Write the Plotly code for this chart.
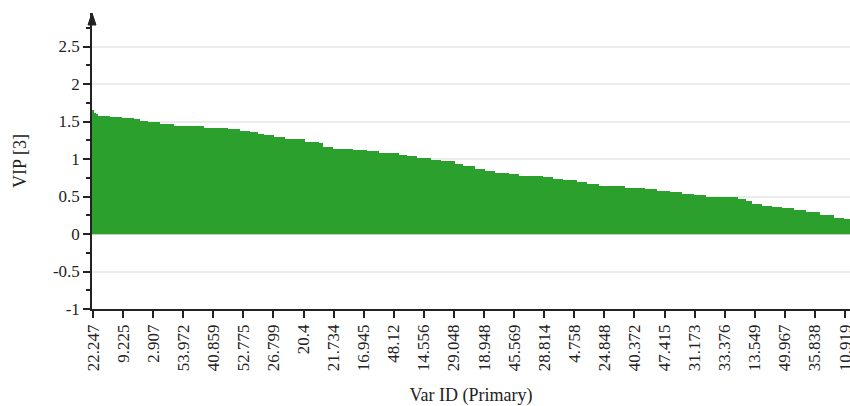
import plotly.graph_objects as go

# VIP scores of component 3, sorted in descending order (one bar per variable)
vip_scores = [
    1.66, 1.62, 1.60,
    1.58, 1.58, 1.58, 1.58, 1.58, 1.58,
    1.56, 1.56, 1.56, 1.56, 1.56, 1.56,
    1.55, 1.55, 1.55, 1.55, 1.55, 1.55,
    1.53, 1.53, 1.53,
    1.51, 1.51, 1.51, 1.51,
    1.49, 1.49, 1.49, 1.49, 1.49, 1.49,
    1.47, 1.47, 1.47, 1.47, 1.47, 1.47, 1.47,
    1.445, 1.445, 1.445, 1.445, 1.445, 1.445, 1.445, 1.445, 1.445, 1.445,
    1.435, 1.435, 1.435, 1.435, 1.435,
    1.42, 1.42, 1.42, 1.42, 1.42, 1.42, 1.42, 1.42, 1.42, 1.42, 1.42, 1.42,
    1.40, 1.40, 1.40, 1.40, 1.40, 1.40,
    1.38, 1.38, 1.38, 1.38, 1.38,
    1.36, 1.36, 1.36, 1.36,
    1.34, 1.34, 1.34,
    1.32, 1.32, 1.32, 1.32, 1.32,
    1.30, 1.30, 1.30, 1.30, 1.30,
    1.27, 1.27, 1.27, 1.27, 1.27, 1.27, 1.27, 1.27, 1.27, 1.27,
    1.23, 1.23, 1.23, 1.23, 1.23, 1.23, 1.23,
    1.21, 1.21,
    1.16, 1.16, 1.16, 1.16, 1.16,
    1.14, 1.14, 1.14, 1.14, 1.14, 1.14, 1.14, 1.14, 1.14, 1.14,
    1.12, 1.12, 1.12, 1.12, 1.12, 1.12, 1.12,
    1.11, 1.11, 1.11, 1.11, 1.11, 1.11,
    1.085, 1.085, 1.085, 1.085, 1.085, 1.085, 1.085, 1.085, 1.085, 1.085,
    1.06, 1.06, 1.06, 1.06,
    1.04, 1.04, 1.04, 1.04, 1.04,
    1.01, 1.01, 1.01, 1.01, 1.01, 1.01, 1.01,
    0.99, 0.99, 0.99, 0.99, 0.99,
    0.97, 0.97, 0.97, 0.97, 0.97, 0.97, 0.97,
    0.94, 0.94, 0.94, 0.94,
    0.91, 0.91, 0.91, 0.91, 0.91, 0.91,
    0.87, 0.87, 0.87, 0.87, 0.87,
    0.84, 0.84, 0.84, 0.84, 0.84,
    0.81, 0.81, 0.81, 0.81, 0.81, 0.81, 0.81,
    0.795, 0.795, 0.795, 0.795, 0.795,
    0.775, 0.775, 0.775, 0.775, 0.775, 0.775, 0.775, 0.775, 0.775, 0.775, 0.775, 0.775,
    0.76, 0.76, 0.76, 0.76, 0.76,
    0.735, 0.735, 0.735, 0.735, 0.735,
    0.715, 0.715, 0.715, 0.715, 0.715, 0.715, 0.715,
    0.70, 0.70, 0.70, 0.70, 0.70,
    0.67, 0.67, 0.67, 0.67, 0.67, 0.67,
    0.645, 0.645, 0.645, 0.645, 0.645, 0.645, 0.645,
    0.635, 0.635, 0.635, 0.635, 0.635, 0.635,
    0.62, 0.62, 0.62, 0.62, 0.62, 0.62, 0.62, 0.62, 0.62, 0.62,
    0.60, 0.60, 0.60, 0.60, 0.60, 0.60,
    0.58, 0.58, 0.58, 0.58, 0.58, 0.58,
    0.56, 0.56, 0.56, 0.56, 0.56, 0.56,
    0.54, 0.54, 0.54, 0.54, 0.54, 0.54,
    0.515, 0.515, 0.515, 0.515, 0.515, 0.515,
    0.495, 0.495, 0.495, 0.495, 0.495, 0.495, 0.495, 0.495,
    0.495, 0.495, 0.495, 0.495, 0.495, 0.495, 0.495, 0.495,
    0.465, 0.465, 0.465, 0.465,
    0.44, 0.44, 0.44,
    0.40, 0.40, 0.40, 0.40, 0.40,
    0.38, 0.38, 0.38, 0.38, 0.38,
    0.36, 0.36, 0.36, 0.36, 0.36,
    0.345, 0.345, 0.345, 0.345, 0.345, 0.345,
    0.32, 0.32, 0.32, 0.32, 0.32, 0.32,
    0.29, 0.29, 0.29, 0.29, 0.29, 0.29, 0.29,
    0.255, 0.255, 0.255, 0.255, 0.255, 0.255, 0.255,
    0.22, 0.22, 0.22, 0.22, 0.22,
    0.20, 0.20, 0.20,
]

# Var ID shown under every 15th bar
tick_step = 15
tick_labels = [
    "22.247", "9.225", "2.907", "53.972", "40.859", "52.775", "26.799",
    "20.4", "21.734", "16.945", "48.12", "14.556", "29.048", "18.948",
    "45.569", "28.814", "4.758", "24.848", "40.372", "47.415", "31.173",
    "33.376", "13.549", "49.967", "35.838", "10.919",
]

y_ticks = [-1, -0.5, 0, 0.5, 1, 1.5, 2, 2.5]
y_minor_ticks = [-0.75, -0.25, 0.25, 0.75, 1.25, 1.75, 2.25, 2.75]

n_vars = len(vip_scores)
positions = list(range(n_vars))
tick_positions = [i * tick_step for i in range(len(tick_labels))]

font_family = "Liberation Serif, Times New Roman, serif"
ink = "#222222"

fig = go.Figure(
    go.Bar(
        x=positions,
        y=vip_scores,
        marker=dict(color="#2ca02c", line=dict(width=0)),
        width=1.0,
        hoverinfo="y",
    )
)

y_top = 2.947

fig.update_layout(
    width=850,
    height=406,
    margin=dict(l=92, r=0, t=13, b=97, autoexpand=False),
    paper_bgcolor="white",
    plot_bgcolor="white",
    bargap=0,
    showlegend=False,
    font=dict(family=font_family, size=17, color=ink),
    xaxis=dict(
        range=[-0.5, n_vars - 0.5],
        automargin=False,
        tickmode="array",
        tickvals=tick_positions,
        ticktext=tick_labels,
        tickangle=-90,
        ticklabeloverflow="allow",
        ticks="outside",
        ticklen=7,
        tickwidth=1.5,
        tickcolor=ink,
        showline=True,
        linecolor=ink,
        linewidth=1.5,
        showgrid=False,
        zeroline=False,
        title=dict(text="Var ID (Primary)", font=dict(size=18), standoff=20),
    ),
    yaxis=dict(
        range=[-1, y_top],
        automargin=False,
        tickmode="array",
        tickvals=y_ticks,
        ticktext=[f"{v:g}" for v in y_ticks],
        ticks="outside",
        ticklen=7,
        tickwidth=1.5,
        tickcolor=ink,
        minor=dict(
            tickmode="array",
            tickvals=y_minor_ticks,
            ticks="outside",
            ticklen=4,
            tickwidth=1.5,
            tickcolor=ink,
            showgrid=False,
        ),
        showline=True,
        linecolor=ink,
        linewidth=1.5,
        showgrid=True,
        gridcolor="#ececec",
        gridwidth=1.5,
        zeroline=True,
        zerolinecolor="#c8c8c8",
        zerolinewidth=1.5,
        title=dict(text="VIP [3]", font=dict(size=18), standoff=22),
    ),
)

# Arrowhead capping the value axis
plot_w = 850 - 92
plot_h = 406 - 13 - 97
head_h = 12 / plot_h
head_hw = 4 / plot_w
fig.add_shape(
    type="path",
    xref="paper",
    yref="paper",
    path=f"M {-head_hw},{1 - head_h} L 0,1 L {head_hw},{1 - head_h} Z",
    fillcolor=ink,
    line=dict(color=ink, width=1),
    layer="above",
)

fig.write_html("out.html")
